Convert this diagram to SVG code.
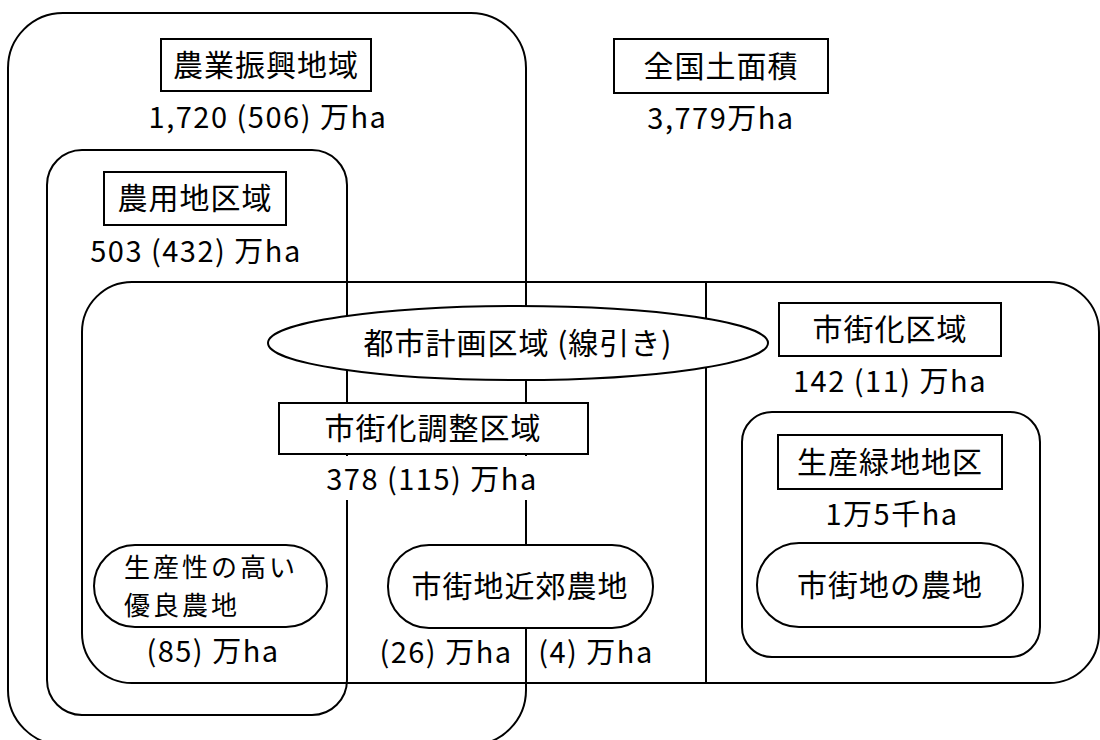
<svg xmlns="http://www.w3.org/2000/svg" width="1100" height="740" viewBox="0 0 1100 740">
<style>
.frame{fill:none;stroke:#000;stroke-width:2}
.box{fill:#fff;stroke:#000;stroke-width:2}
.line{stroke:#000;stroke-width:2}
.t{font-family:"Noto Sans CJK JP","Noto Sans",sans-serif;font-size:30px;fill:#000;text-anchor:middle;letter-spacing:1px}
.s{font-family:"Noto Sans CJK JP","Noto Sans",sans-serif;font-size:26px;fill:#000;letter-spacing:3px}
.n{font-family:"Noto Sans CJK JP","Noto Sans",sans-serif;font-size:29px;fill:#000;text-anchor:middle;letter-spacing:1.5px}
</style>
<rect x="0" y="0" width="1100" height="740" fill="#fff"/>
<g id="nogyo-shinko">
<rect class="frame" x="8" y="13" width="518" height="732" rx="55"/>
<rect class="box" x="161" y="39" width="210" height="52"/>
<text class="t" x="266" y="76">農業振興地域</text>
<text class="n" x="268" y="128">1,720 (506) 万ha</text>
</g>
<g id="zenkoku">
<rect class="box" x="614" y="39" width="214" height="54"/>
<text class="t" x="721" y="77">全国土面積</text>
<text class="n" x="721" y="129">3,779万ha</text>
</g>
<g id="noyochi">
<rect class="frame" x="47" y="150" width="300" height="565" rx="35"/>
<rect class="box" x="104" y="172" width="182" height="53"/>
<text class="t" x="195" y="209">農用地区域</text>
<text class="n" x="196" y="262">503 (432) 万ha</text>
</g>
<g id="toshi-keikaku">
<rect class="frame" x="82" y="282" width="1017" height="401" rx="50"/>
</g>
<g id="connectors">
<line class="line" x1="706" y1="282" x2="706" y2="683"/>
</g>
<g id="toshi-keikaku-label">
<ellipse class="box" cx="518" cy="343" rx="250" ry="37"/>
<text class="t" x="518" y="354">都市計画区域 (線引き)</text>
</g>
<g id="chosei">
<rect class="box" x="279" y="403" width="309" height="51"/>
<text class="t" x="433" y="439">市街化調整区域</text>
<rect x="318" y="456" width="228" height="44" fill="#fff"/>
<text class="n" x="432" y="490">378 (115) 万ha</text>
</g>
<g id="yuryo">
<rect class="box" x="94" y="545" width="233" height="82" rx="41"/>
<text class="s" x="124" y="577">生産性の高い</text>
<text class="s" x="124" y="615">優良農地</text>
<text class="n" x="213" y="662">(85) 万ha</text>
</g>
<g id="kinko">
<rect class="box" x="388" y="545" width="265" height="83" rx="41"/>
<text class="t" x="520" y="597">市街地近郊農地</text>
<text class="n" x="446" y="663">(26) 万ha</text>
<text class="n" x="596" y="663">(4) 万ha</text>
</g>
<g id="shigaika">
<rect class="box" x="779" y="303" width="222" height="53"/>
<text class="t" x="890" y="340">市街化区域</text>
<text class="n" x="890" y="392">142 (11) 万ha</text>
</g>
<g id="seisan-ryokuchi">
<rect class="frame" x="742" y="412" width="298" height="245" rx="30"/>
<rect class="box" x="778" y="435" width="224" height="54"/>
<text class="t" x="890" y="473">生産緑地地区</text>
<text class="n" x="892" y="525">1万5千ha</text>
</g>
<g id="shigaichi-nochi">
<rect class="box" x="757" y="543" width="266" height="84" rx="42"/>
<text class="t" x="890" y="596">市街地の農地</text>
</g>
</svg>
